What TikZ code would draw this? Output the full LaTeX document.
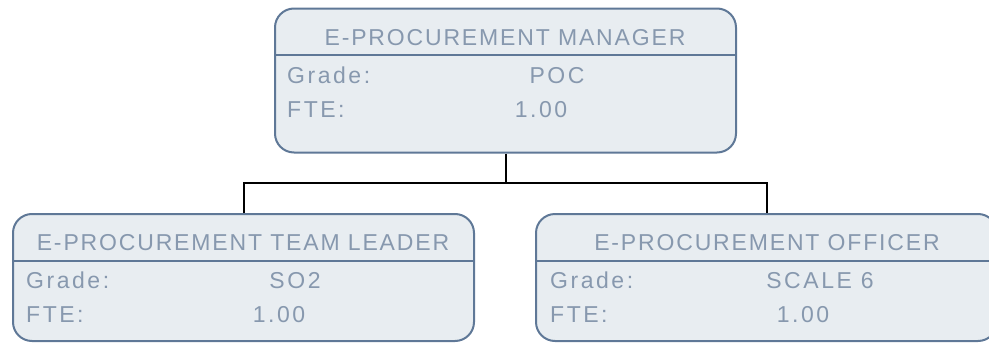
\documentclass[tikz,border=0pt]{standalone}
\usepackage{fontspec}
\setmainfont{Liberation Sans}
\definecolor{bd}{HTML}{5F7897}
\definecolor{fl}{HTML}{E8EDF1}
\definecolor{tx}{HTML}{8798AE}
\begin{document}
\begin{tikzpicture}[x=1pt,y=-1pt,
  box/.style={draw=bd, fill=fl, line width=2pt, rounded corners=19pt, inner sep=0pt, minimum width=461pt},
  divider/.style={draw=bd, line width=2pt},
  txt/.style={text=tx, inner sep=0pt, anchor=base, font=\fontsize{23}{27}\selectfont\addfontfeatures{LetterSpace=11}},
  ttl/.style={txt, font=\fontsize{23}{27}\selectfont\addfontfeatures{LetterSpace=8}},
  lbl/.style={txt, anchor=base west},
  conn/.style={draw=black, line width=2pt}]
\useasboundingbox (0,0) rectangle (989,343);
% boxes
\node[box, minimum height=144pt] (mgr) at (505.5,80.5) {};
\node[box, minimum height=127pt] (tl) at (243.5,277.5) {};
\node[box, minimum height=127pt] (off) at (766.5,277.5) {};
% dividers
\draw[divider] (mgr.west |- 0,55) -- (mgr.east |- 0,55);
\draw[divider] (tl.west |- 0,261) -- (tl.east |- 0,261);
\draw[divider] (off.west |- 0,261) -- (off.east |- 0,261);
% manager texts
\node[ttl] (mgrt) at (505,45) {E-PROCUREMENT MANAGER};
\node[lbl] (mgrg) at (287,83) {Grade:};
\node[txt] (mgrgv) at (557,83) {POC};
\node[lbl] (mgrf) at (287,117) {FTE:};
\node[txt] (mgrfv) at (541,117) {1.00};
% team leader texts
\node[ttl] (tlt) at (243,250) {E-PROCUREMENT TEAM LEADER};
\node[lbl] (tlg) at (26,288.5) {Grade:};
\node[txt] (tlgv) at (295,288.5) {SO2};
\node[lbl] (tlf) at (26,322) {FTE:};
\node[txt] (tlfv) at (279,322) {1.00};
% officer texts
\node[ttl] (offt) at (767,250) {E-PROCUREMENT OFFICER};
\node[lbl] (offg) at (550,288.5) {Grade:};
\node[txt] (offgv) at (820,288.5) {SCALE 6};
\node[lbl] (offf) at (550,322) {FTE:};
\node[txt] (offfv) at (803,322) {1.00};
% connectors
\coordinate (bus) at (505,183);
\draw[conn] (mgr.south) -- (mgr.south |- bus);
\draw[conn] (tl.north) |- (mgr.south |- bus) -| (off.north);
\end{tikzpicture}
\end{document}
